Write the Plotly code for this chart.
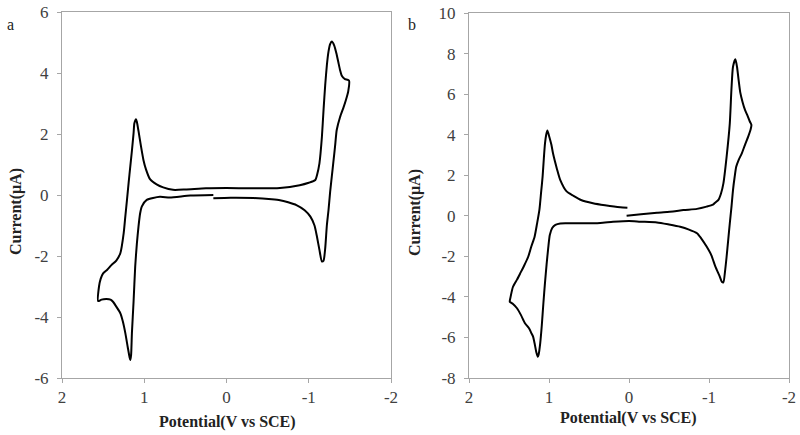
import plotly.graph_objects as go

# Voltamograma a: potencial (V vs SCE) y corriente (uA), en orden de barrido
pot_a = [0.16, -0.05, -0.33, -0.55, -0.65, -0.75, -0.85, -0.95, -1.02, -1.07, -1.10,
         -1.13, -1.16, -1.18, -1.20, -1.22, -1.24, -1.26, -1.28, -1.30, -1.32, -1.34,
         -1.38, -1.42, -1.45, -1.48, -1.49,
         -1.47, -1.44, -1.40, -1.38, -1.36, -1.34, -1.31, -1.28, -1.26, -1.24, -1.22,
         -1.20, -1.18, -1.16, -1.13, -1.10, -1.08, -1.00, -0.89, -0.65, -0.30, 0.00,
         0.25, 0.50, 0.65, 0.77, 0.85, 0.93, 0.98, 1.01, 1.04, 1.07, 1.09, 1.10,
         1.12, 1.13, 1.15, 1.17, 1.19, 1.21, 1.23, 1.25, 1.29, 1.34, 1.40, 1.45, 1.50,
         1.53, 1.55, 1.56,
         1.52, 1.46, 1.41, 1.38, 1.33, 1.29, 1.26, 1.23, 1.20, 1.18, 1.17, 1.16, 1.15,
         1.13, 1.11, 1.09, 1.07, 1.05, 1.03, 0.97, 0.81, 0.69, 0.44, 0.16]
cur_a = [-0.11, -0.09, -0.10, -0.14, -0.17, -0.24, -0.33, -0.50, -0.71, -1.00, -1.37,
         -1.80, -2.18, -2.15, -1.75, -1.00, -0.50, 0.10, 0.60, 1.10, 1.60, 2.13,
         2.55, 2.85, 3.10, 3.40, 3.75,
         3.78, 3.80, 3.92, 4.10, 4.35, 4.60, 4.90, 5.03, 4.95, 4.70, 4.25,
         3.60, 2.80, 1.91, 1.04, 0.65, 0.49, 0.40, 0.32, 0.23, 0.22, 0.23,
         0.22, 0.18, 0.17, 0.25, 0.35, 0.52, 0.85, 1.15, 1.60, 2.10, 2.40, 2.48,
         2.35, 2.02, 1.45, 0.93, 0.40, -0.16, -0.70, -1.25, -1.90, -2.15, -2.30, -2.45, -2.57,
         -2.75, -3.00, -3.48,
         -3.43, -3.41, -3.43, -3.50, -3.70, -3.88, -4.15, -4.53, -5.00, -5.30, -5.41, -5.25, -4.53,
         -3.50, -2.35, -1.60, -1.04, -0.60, -0.38, -0.16, -0.06, -0.08, -0.02, 0.00]

# Voltamograma b
pot_b = [0.03, -0.15, -0.35, -0.55, -0.68, -0.85, -0.97, -1.05, -1.08, -1.12, -1.15,
         -1.18, -1.22, -1.26, -1.28, -1.30, -1.33, -1.35, -1.37, -1.39, -1.42, -1.45,
         -1.48, -1.51, -1.53,
         -1.52, -1.49, -1.45, -1.41, -1.37, -1.34, -1.32, -1.30, -1.28, -1.26, -1.24,
         -1.22, -1.20, -1.18, -1.16, -1.13, -1.08, -1.03, -0.97, -0.90, -0.85, -0.75,
         -0.64, -0.50, -0.35, -0.14, 0.00, 0.20, 0.36, 0.55, 0.78, 0.86, 0.92, 0.96,
         0.99, 1.01, 1.03, 1.05, 1.07, 1.09, 1.11, 1.13, 1.14,
         1.16, 1.18, 1.20, 1.22, 1.25, 1.30, 1.35, 1.40, 1.45, 1.49,
         1.48, 1.45, 1.40, 1.36, 1.31, 1.26, 1.22, 1.18, 1.15, 1.12, 1.10, 1.08, 1.065,
         1.05, 1.035, 1.02, 1.00, 0.97, 0.95, 0.90, 0.86, 0.78, 0.70, 0.60, 0.45, 0.30,
         0.11, 0.02]
cur_b = [0.00, 0.07, 0.15, 0.21, 0.28, 0.34, 0.45, 0.55, 0.66, 0.80, 1.10,
         1.60, 2.91, 4.56, 6.20, 7.35, 7.72, 7.35, 6.70, 6.10, 5.60, 5.22,
         4.95, 4.65, 4.48,
         4.25, 3.90, 3.50, 3.08, 2.75, 2.42, 1.90, 1.27, 0.40, -0.37, -1.20,
         -2.02, -2.75, -3.28, -3.25, -2.95, -2.51, -1.95, -1.52, -1.10, -0.86, -0.68,
         -0.54, -0.43, -0.33, -0.29, -0.26, -0.30, -0.35, -0.37, -0.37, -0.38, -0.45, -0.60,
         -0.95, -1.60, -2.40, -3.30, -4.30, -5.40, -6.29, -6.85, -6.95,
         -6.70, -6.29, -5.95, -5.79, -5.55, -5.30, -4.90, -4.56, -4.35, -4.24,
         -4.00, -3.50, -3.15, -2.84, -2.45, -2.02, -1.50, -1.03, -0.40, 0.29, 1.10, 1.93, 2.80,
         3.57, 4.00, 4.20, 3.95, 3.50, 3.08, 2.30, 1.77, 1.20, 1.00, 0.78, 0.62, 0.52,
         0.42, 0.40]

ticks_x = [2, 1, 0, -1, -2]
ticks_ya = [-6, -4, -2, 0, 2, 4, 6]
ticks_yb = [-8, -6, -4, -2, 0, 2, 4, 6, 8, 10]

fuente = "Liberation Serif"

# Figura a tamaño de ventana; el margen del <body> se quita al cargar la página
ANCHO, ALTO = 800, 435


def px(x, y):
    """Pasa un punto de la ventana (px) a coordenadas de papel."""
    return x / ANCHO, 1 - y / ALTO


def eje(dominio, rango, ticks, ancla, separacion=0):
    """Eje con marco gris al estilo de Excel (guion normal en los negativos)."""
    return dict(domain=dominio, range=rango, tickvals=ticks,
                ticktext=[str(t) for t in ticks], anchor=ancla, automargin=False,
                showline=True, linecolor="#a6a6a6", linewidth=1, mirror=True,
                showgrid=False, zeroline=False, ticks="outside", ticklen=4,
                ticklabeloverflow="allow", ticklabelstandoff=separacion,
                tickcolor="#a6a6a6", tickfont=dict(family=fuente, size=17, color="#404040"))


fig = go.Figure()
fig.add_trace(go.Scatter(x=pot_a, y=cur_a, mode="lines", xaxis="x", yaxis="y",
                         line=dict(color="black", width=2, shape="spline", smoothing=0.6)))
fig.add_trace(go.Scatter(x=pot_b, y=cur_b, mode="lines", xaxis="x2", yaxis="y2",
                         line=dict(color="black", width=2, shape="spline", smoothing=0.6)))

xa0, ya0 = px(62, 378)
xa1, ya1 = px(391, 12)
xb0, yb0 = px(469, 378)
xb1, yb1 = px(789, 13)

fig.update_layout(
    width=ANCHO, height=ALTO,
    margin=dict(l=0, r=0, t=0, b=0),
    paper_bgcolor="white", plot_bgcolor="white",
    showlegend=False,
    xaxis=eje([xa0, xa1], [2, -2], ticks_x, "y"),
    yaxis=eje([ya0, ya1], [-6, 6], ticks_ya, "x", 5),
    xaxis2=eje([xb0, xb1], [2, -2], ticks_x, "y2"),
    yaxis2=eje([yb0, yb1], [-8, 10], ticks_yb, "x2", 5),
)

# Títulos de los ejes y letras de los paneles
titulo = dict(family=fuente, size=16, color="#222222")
anot = [
    (227, 422, "<b>Potential(V vs SCE)</b>", 0, "center"),
    (628, 418, "<b>Potential(V vs SCE)</b>", 0, "center"),
    (16, 212, "<b>Current(μA)</b>", -90, "center"),
    (415, 213, "<b>Current(μA)</b>", -90, "center"),
    (5, 24, "a", 0, "left"),
    (406, 24, "b", 0, "left"),
]
for x, y, texto, angulo, ancla in anot:
    ax, ay = px(x, y)
    fig.add_annotation(x=ax, y=ay, xref="paper", yref="paper", text=texto,
                       textangle=angulo, showarrow=False, xanchor=ancla,
                       yanchor="middle", font=titulo)

fig.write_html("out.html", config={"displayModeBar": False},
               post_script="document.body.style.margin = '0';")
